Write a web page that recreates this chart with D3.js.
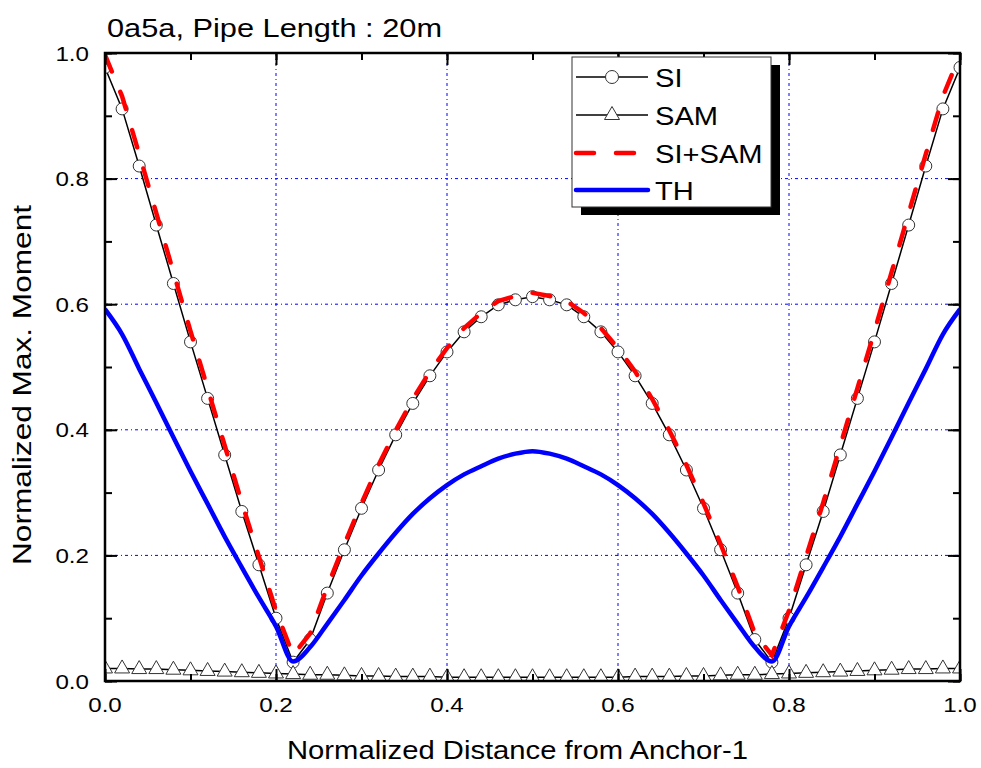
<!DOCTYPE html>
<html>
<head>
<meta charset="utf-8">
<script src="https://cdn.jsdelivr.net/npm/d3@7"></script>
<style>
  body { margin: 0; background: #fff; }
  svg { display: block; }
  text { font-family: "Liberation Sans", Arial, sans-serif; fill: #000; }
</style>
</head>
<body>
<svg id="chart" width="981" height="768"></svg>
<script>
// Normalized distance along the pipe (station positions)
const distance = [0.00, 0.02, 0.04, 0.06, 0.08, 0.10, 0.12, 0.14, 0.16, 0.18,
  0.20, 0.22, 0.24, 0.26, 0.28, 0.30, 0.32, 0.34, 0.36, 0.38,
  0.40, 0.42, 0.44, 0.46, 0.48, 0.50, 0.52, 0.54, 0.56, 0.58,
  0.60, 0.62, 0.64, 0.66, 0.68, 0.70, 0.72, 0.74, 0.76, 0.78,
  0.80, 0.82, 0.84, 0.86, 0.88, 0.90, 0.92, 0.94, 0.96, 0.98, 1.00];

// Normalized max. moment for each method
const si = [0.977, 0.911, 0.820, 0.726, 0.633, 0.540, 0.450, 0.360, 0.270, 0.185,
  0.100, 0.030, 0.066, 0.140, 0.209, 0.275, 0.336, 0.392, 0.442, 0.486,
  0.524, 0.556, 0.580, 0.599, 0.607, 0.612, 0.607, 0.599, 0.580, 0.556,
  0.524, 0.486, 0.442, 0.392, 0.336, 0.275, 0.209, 0.140, 0.066, 0.030,
  0.100, 0.185, 0.270, 0.360, 0.450, 0.540, 0.633, 0.726, 0.820, 0.911, 0.977];

const sam = [0.020, 0.020, 0.019, 0.019, 0.018, 0.017, 0.016, 0.015, 0.014, 0.013,
  0.012, 0.011, 0.010, 0.010, 0.009, 0.008, 0.008, 0.007, 0.007, 0.007,
  0.006, 0.006, 0.006, 0.006, 0.006, 0.006, 0.006, 0.006, 0.006, 0.006,
  0.006, 0.007, 0.007, 0.007, 0.008, 0.008, 0.009, 0.010, 0.010, 0.011,
  0.012, 0.013, 0.014, 0.015, 0.016, 0.017, 0.018, 0.019, 0.019, 0.020, 0.020];

const siSam = [0.997, 0.931, 0.839, 0.745, 0.651, 0.557, 0.466, 0.375, 0.284, 0.198,
  0.112, 0.041, 0.076, 0.150, 0.218, 0.283, 0.344, 0.399, 0.449, 0.493,
  0.530, 0.562, 0.586, 0.605, 0.613, 0.618, 0.613, 0.605, 0.586, 0.562,
  0.530, 0.493, 0.449, 0.399, 0.344, 0.283, 0.218, 0.150, 0.076, 0.041,
  0.112, 0.198, 0.284, 0.375, 0.466, 0.557, 0.651, 0.745, 0.839, 0.931, 0.997];

const th = [0.592, 0.552, 0.497, 0.443, 0.388, 0.334, 0.282, 0.230, 0.181, 0.133,
  0.087, 0.031, 0.054, 0.091, 0.129, 0.168, 0.203, 0.236, 0.266, 0.291,
  0.312, 0.329, 0.342, 0.354, 0.362, 0.366, 0.362, 0.354, 0.342, 0.329,
  0.312, 0.291, 0.266, 0.236, 0.203, 0.168, 0.129, 0.091, 0.054, 0.031,
  0.087, 0.133, 0.181, 0.230, 0.282, 0.334, 0.388, 0.443, 0.497, 0.552, 0.592];

const xTickLabels = ["0.0", "0.2", "0.4", "0.6", "0.8", "1.0"];
const yTickLabels = ["0.0", "0.2", "0.4", "0.6", "0.8", "1.0"];
const seriesNames = ["SI", "SAM", "SI+SAM", "TH"];
const chartTitle = "0a5a, Pipe Length : 20m";
const xAxisTitle = "Normalized Distance from Anchor-1";
const yAxisTitle = "Normalized Max. Moment";

const svg = d3.select("#chart");
const plotLeft = 105, plotRight = 960, plotTop = 53, plotBottom = 681;

const x = d3.scaleLinear().domain([0, 1]).range([plotLeft, plotRight]);
const y = d3.scaleLinear().domain([0, 1]).range([plotBottom, plotTop]);

const majorX = x.ticks(5), minorX = x.ticks(10);
const majorY = y.ticks(5), minorY = y.ticks(10);

// dotted blue grid at inner major ticks
const grid = svg.append("g")
  .attr("stroke", "#0000ff").attr("stroke-width", 1)
  .attr("stroke-dasharray", "3,3,1,3");
grid.selectAll("line.gx").data(majorX.slice(1, -1)).join("line")
  .attr("x1", d => x(d)).attr("x2", d => x(d))
  .attr("y1", plotTop).attr("y2", plotBottom);
grid.selectAll("line.gy").data(majorY.slice(1, -1)).join("line")
  .attr("y1", d => y(d)).attr("y2", d => y(d))
  .attr("x1", plotLeft).attr("x2", plotRight);

// data layers clipped to the frame
svg.append("clipPath").attr("id", "plotClip")
  .append("rect").attr("x", plotLeft).attr("y", plotTop)
  .attr("width", plotRight - plotLeft).attr("height", plotBottom - plotTop);
const plot = svg.append("g").attr("clip-path", "url(#plotClip)");

const rows = distance.map((d, i) => ({ d, si: si[i], sam: sam[i], siSam: siSam[i], th: th[i] }));
const lineOf = key => d3.line().x(r => x(r.d)).y(r => y(r[key]));
const triangle = "M0,-8.5L7.5,4.5L-7.5,4.5Z";

// SI
plot.append("path").datum(rows).attr("d", lineOf("si"))
  .attr("fill", "none").attr("stroke", "#000").attr("stroke-width", 1.5);
plot.selectAll("circle.si").data(rows).join("circle")
  .attr("cx", r => x(r.d)).attr("cy", r => y(r.si)).attr("r", 6)
  .attr("fill", "#fff").attr("stroke", "#333").attr("stroke-width", 1);

// SAM
plot.append("path").datum(rows).attr("d", lineOf("sam"))
  .attr("fill", "none").attr("stroke", "#000").attr("stroke-width", 1.5);
plot.selectAll("path.sam").data(rows).join("path")
  .attr("d", triangle)
  .attr("transform", r => `translate(${x(r.d)},${y(r.sam)})`)
  .attr("fill", "#fff").attr("stroke", "#333").attr("stroke-width", 1);

// SI+SAM
plot.append("path").datum(rows).attr("d", lineOf("siSam"))
  .attr("fill", "none").attr("stroke", "#ff0000").attr("stroke-width", 4.5)
  .attr("stroke-linecap", "round").attr("stroke-dasharray", "18,22");

// TH
plot.append("path").datum(rows)
  .attr("d", d3.line().x(r => x(r.d)).y(r => y(r.th)).curve(d3.curveMonotoneX))
  .attr("fill", "none").attr("stroke", "#0000ff").attr("stroke-width", 4.5)
  .attr("stroke-linejoin", "round");

// inward ticks on all four sides
function ticks(axisFn, values, size, transform) {
  const g = svg.append("g").attr("transform", transform)
    .call(axisFn.tickValues(values).tickSize(-size).tickFormat(""));
  g.select(".domain").remove();
  g.selectAll(".tick line").attr("stroke", "#000").attr("stroke-width", 2);
}
ticks(d3.axisBottom(x), minorX, 7, `translate(0,${plotBottom})`);
ticks(d3.axisBottom(x), majorX, 12, `translate(0,${plotBottom})`);
ticks(d3.axisTop(x), minorX, 7, `translate(0,${plotTop})`);
ticks(d3.axisTop(x), majorX, 12, `translate(0,${plotTop})`);
ticks(d3.axisLeft(y), minorY, 7, `translate(${plotLeft},0)`);
ticks(d3.axisLeft(y), majorY, 12, `translate(${plotLeft},0)`);
ticks(d3.axisRight(y), minorY, 7, `translate(${plotRight},0)`);
ticks(d3.axisRight(y), majorY, 12, `translate(${plotRight},0)`);

// frame
svg.append("rect").attr("x", plotLeft).attr("y", plotTop)
  .attr("width", plotRight - plotLeft).attr("height", plotBottom - plotTop)
  .attr("fill", "none").attr("stroke", "#000").attr("stroke-width", 2.5);

// tick labels
const labelStretch = 1.15;
svg.selectAll("text.xl").data(majorX).join("text")
  .attr("transform", (d) => `translate(${x(d)},712) scale(${labelStretch},1)`)
  .attr("text-anchor", "middle").attr("font-size", 21)
  .text((d, i) => xTickLabels[i]);
svg.selectAll("text.yl").data(majorY).join("text")
  .attr("transform", (d) => `translate(89,${y(d) + 7.5}) scale(${labelStretch},1)`)
  .attr("text-anchor", "end").attr("font-size", 21)
  .text((d, i) => yTickLabels[i]);

// titles
svg.append("text").attr("x", 107).attr("y", 37).attr("font-size", 26)
  .attr("textLength", 335).attr("lengthAdjust", "spacingAndGlyphs")
  .text(chartTitle);
svg.append("text").attr("x", (plotLeft + plotRight) / 2 - 15).attr("y", 759)
  .attr("text-anchor", "middle").attr("font-size", 26)
  .attr("textLength", 461).attr("lengthAdjust", "spacingAndGlyphs")
  .text(xAxisTitle);
svg.append("text").attr("transform", "translate(31,385) rotate(-90)")
  .attr("text-anchor", "middle").attr("font-size", 26)
  .attr("textLength", 360).attr("lengthAdjust", "spacingAndGlyphs")
  .text(yAxisTitle);

// legend
const lg = svg.append("g");
lg.append("rect").attr("x", 581).attr("y", 65).attr("width", 199).attr("height", 150).attr("fill", "#000");
lg.append("rect").attr("x", 572).attr("y", 57).attr("width", 199).attr("height", 150)
  .attr("fill", "#fff").attr("stroke", "#333").attr("stroke-width", 1);
const rowY = [77, 115, 153, 190];
const sx1 = 576, sx2 = 648, mx = 612;
lg.append("line").attr("x1", sx1).attr("x2", sx2).attr("y1", rowY[0]).attr("y2", rowY[0])
  .attr("stroke", "#000").attr("stroke-width", 1.5);
lg.append("circle").attr("cx", mx).attr("cy", rowY[0]).attr("r", 6.5)
  .attr("fill", "#fff").attr("stroke", "#333");
lg.append("line").attr("x1", sx1).attr("x2", sx2).attr("y1", rowY[1]).attr("y2", rowY[1])
  .attr("stroke", "#000").attr("stroke-width", 1.5);
lg.append("path").attr("d", triangle).attr("transform", `translate(${mx},${rowY[1]})`)
  .attr("fill", "#fff").attr("stroke", "#333");
lg.append("line").attr("x1", sx1).attr("x2", sx2).attr("y1", rowY[2]).attr("y2", rowY[2])
  .attr("stroke", "#ff0000").attr("stroke-width", 4.5)
  .attr("stroke-linecap", "round").attr("stroke-dasharray", "18,22");
lg.append("line").attr("x1", sx1).attr("x2", sx2).attr("y1", rowY[3]).attr("y2", rowY[3])
  .attr("stroke", "#0000ff").attr("stroke-width", 4.5).attr("stroke-linecap", "round");
lg.selectAll("text").data(seriesNames).join("text")
  .attr("transform", (d, i) => `translate(655,${rowY[i] + 9.5}) scale(1.12,1)`)
  .attr("font-size", 26).text(d => d);
</script>
</body>
</html>
